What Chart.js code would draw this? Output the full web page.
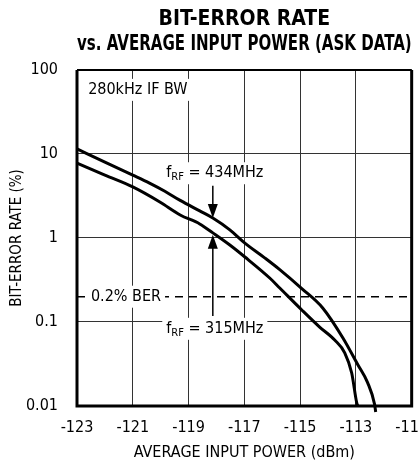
<!DOCTYPE html>
<html>
<head>
<meta charset="utf-8">
<script src="https://cdn.jsdelivr.net/npm/chart.js@4.4.1/dist/chart.umd.min.js"></script>
<style>
  html, body { margin: 0; padding: 0; background: #fff; overflow: hidden; }
  #wrap { width: 440px; height: 468px; }
</style>
</head>
<body>
<div id="wrap"><canvas id="berChart" width="440" height="468"></canvas></div>
<script>
// Values
const power434 = [-123, -122.0, -121.0, -120.4, -119.85, -119.3, -118.6, -118.13, -117.52, -116.98, -116.27, -115.73, -114.94, -114.19, -113.47, -112.93, -112.58, -112.33, -112.29];
const ber434 = [11.5, 8.0, 5.6, 4.5, 3.6, 2.8, 2.1, 1.73, 1.25, 0.87, 0.58, 0.42, 0.25, 0.147, 0.065, 0.031, 0.019, 0.0105, 0.0085];
const power315 = [-123, -122.0, -121.0, -120.03, -119.3, -118.6, -118.13, -117.52, -116.98, -116.09, -115.73, -114.94, -114.3, -113.76, -113.4, -113.15, -112.97, -112.93];
const ber315 = [7.8, 5.6, 4.05, 2.68, 1.88, 1.47, 1.15, 0.825, 0.594, 0.334, 0.254, 0.139, 0.087, 0.061, 0.043, 0.0247, 0.0109, 0.01];
const berLimit = 0.2;
const xTicks = [-123, -121, -119, -117, -115, -113, -111];
const yTicks = [0.01, 0.1, 1, 10, 100];
const yTickLabels = ['0.01', '0.1', '1', '10', '100'];

const FONT = "'Liberation Sans Narrow', 'DejaVu Sans Condensed', 'Arial Narrow', sans-serif";
Chart.defaults.font.family = FONT;
Chart.defaults.color = '#000';

function toPoints(xs, ys) {
  return xs.map((x, i) => ({ x: x, y: ys[i] }));
}

// Draw a label on a white box (covers the grid behind it)
function boxText(ctx, parts, left, midY) {
  let w = 0;
  parts.forEach(p => { ctx.font = p.size + 'px ' + FONT; w += ctx.measureText(p.t).width; });
  ctx.fillStyle = '#fff';
  ctx.fillRect(left - 4, midY - 11, w + 8, 22);
  ctx.fillStyle = '#000';
  ctx.textBaseline = 'middle';
  ctx.textAlign = 'left';
  let cx = left;
  parts.forEach(p => {
    ctx.font = p.size + 'px ' + FONT;
    ctx.fillText(p.t, cx, midY + (p.dy || 0));
    cx += ctx.measureText(p.t).width;
  });
}

function arrow(ctx, x, yFrom, yTo) {
  const dir = yTo > yFrom ? 1 : -1;
  ctx.strokeStyle = '#000';
  ctx.lineWidth = 1.5;
  ctx.beginPath();
  ctx.moveTo(x, yFrom);
  ctx.lineTo(x, yTo - dir * 10);
  ctx.stroke();
  ctx.fillStyle = '#000';
  ctx.beginPath();
  ctx.moveTo(x, yTo);
  ctx.lineTo(x - 5, yTo - dir * 14);
  ctx.lineTo(x + 5, yTo - dir * 14);
  ctx.closePath();
  ctx.fill();
}

// Annotations and the heavy frame
const notes = {
  id: 'notes',
  afterDatasetsDraw(chart) {
    const { ctx, chartArea: a, scales: { x, y } } = chart;
    ctx.save();

    boxText(ctx, [{ t: '280kHz IF BW', size: 16 }], x.getPixelForValue(-122.6), y.getPixelForValue(58));
    boxText(ctx, [{ t: '0.2% BER', size: 16 }], x.getPixelForValue(-122.5), y.getPixelForValue(berLimit));
    boxText(ctx, [{ t: 'f', size: 16 }, { t: 'RF', size: 11, dy: 4 }, { t: ' = 434MHz', size: 16 }],
      x.getPixelForValue(-119.8), y.getPixelForValue(5.9));
    boxText(ctx, [{ t: 'f', size: 16 }, { t: 'RF', size: 11, dy: 4 }, { t: ' = 315MHz', size: 16 }],
      x.getPixelForValue(-119.8), y.getPixelForValue(0.083));

    const ax = x.getPixelForValue(-118.13);
    arrow(ctx, ax, y.getPixelForValue(4.2), y.getPixelForValue(1.73));
    arrow(ctx, ax, y.getPixelForValue(0.118), y.getPixelForValue(1.09));

    // frame
    ctx.strokeStyle = '#000';
    ctx.lineWidth = 3;
    ctx.beginPath();
    ctx.moveTo(a.left, a.top);
    ctx.lineTo(a.left, a.bottom);
    ctx.lineTo(a.right, a.bottom);
    ctx.lineTo(a.right, a.top);
    ctx.stroke();
    ctx.lineWidth = 2;
    ctx.beginPath();
    ctx.moveTo(a.left, a.top);
    ctx.lineTo(a.right, a.top);
    ctx.stroke();
    ctx.restore();
  }
};

const ctx = document.getElementById('berChart').getContext('2d');
new Chart(ctx, {
  type: 'line',
  data: {
    datasets: [
      {
        label: 'fRF = 434MHz',
        data: toPoints(power434, ber434),
        borderColor: '#000',
        borderWidth: 3,
        pointRadius: 0,
        cubicInterpolationMode: 'monotone',
        clip: { left: 0, top: 0, right: 0, bottom: 8 }
      },
      {
        label: 'fRF = 315MHz',
        data: toPoints(power315, ber315),
        borderColor: '#000',
        borderWidth: 3,
        pointRadius: 0,
        cubicInterpolationMode: 'monotone'
      },
      {
        label: '0.2% BER',
        data: toPoints([xTicks[0], xTicks[xTicks.length - 1]], [berLimit, berLimit]),
        borderColor: '#000',
        borderWidth: 1.5,
        borderDash: [8, 6],
        pointRadius: 0
      }
    ]
  },
  options: {
    responsive: false,
    animation: false,
    layout: { padding: { left: 0, right: 28, top: 0, bottom: 0 } },
    plugins: {
      legend: { display: false },
      tooltip: { enabled: false },
      title: {
        display: true,
        fullSize: false,
        text: ['BIT-ERROR RATE', 'vs. AVERAGE INPUT POWER (ASK DATA)'],
        color: '#000',
        font: { size: 21, weight: 'bold', lineHeight: 1.19 },
        padding: { top: 7, bottom: 13 }
      }
    },
    scales: {
      x: {
        type: 'linear',
        min: xTicks[0],
        max: xTicks[xTicks.length - 1],
        afterBuildTicks: s => { s.ticks = xTicks.map(v => ({ value: v })); },
        afterFit: s => { s.height = 62; },
        ticks: { font: { size: 16 }, padding: 12, maxRotation: 0, callback: v => String(v) },
        grid: { color: '#333', lineWidth: 1, drawTicks: false },
        border: { display: false },
        title: { display: true, text: 'AVERAGE INPUT POWER (dBm)', font: { size: 16 }, padding: { top: 4, bottom: 6 } }
      },
      y: {
        type: 'logarithmic',
        min: yTicks[0],
        max: yTicks[yTicks.length - 1],
        afterBuildTicks: s => { s.ticks = yTicks.map(v => ({ value: v })); },
        afterFit: s => { s.width = 77; },
        ticks: { font: { size: 16 }, padding: 19, callback: v => yTickLabels[yTicks.indexOf(v)] },
        grid: { color: '#333', lineWidth: 1, drawTicks: false },
        border: { display: false },
        title: { display: true, text: 'BIT-ERROR RATE (%)', font: { size: 15 }, padding: { top: 8, bottom: 0 } }
      }
    }
  },
  plugins: [notes]
});
</script>
</body>
</html>
